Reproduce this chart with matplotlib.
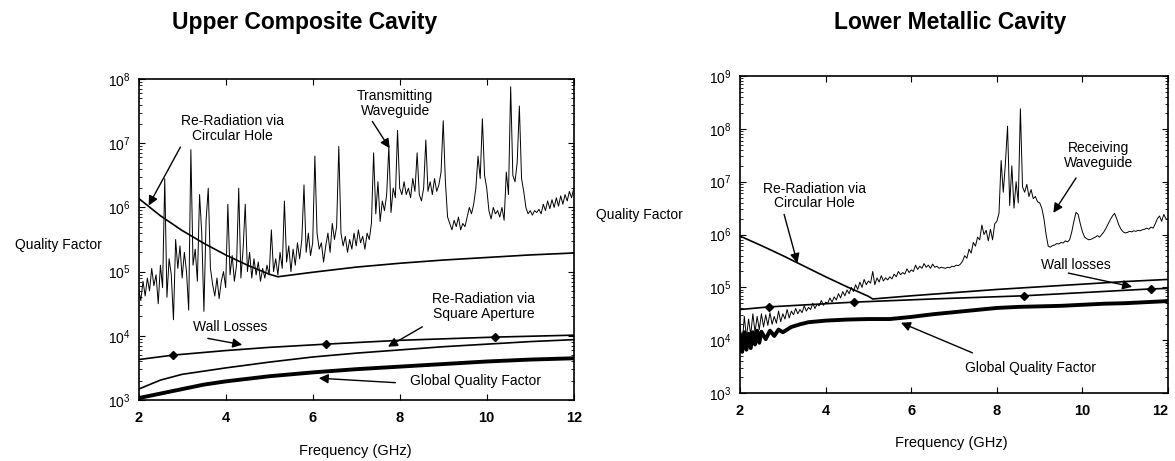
import numpy as np
import matplotlib.pyplot as plt

plt.rcParams['font.family'] = ['Liberation Sans', 'DejaVu Sans']

# ---- Upper composite cavity (values are log10 of Q) ----
# transmitting waveguide, read every 0.05 GHz from 2 to 12 GHz
up_guide_log = [
    4.72, 4.55, 4.85, 4.62, 4.90, 4.70, 5.05, 4.78, 4.95, 4.50,
    5.10, 4.75, 6.45, 4.60, 5.20, 4.95, 4.25, 5.50, 5.05, 5.40,
    4.90, 5.30, 5.00, 4.40, 6.90, 5.10, 5.35, 4.85, 6.20, 5.60,
    4.38, 5.80, 6.30, 5.05, 4.80, 4.62, 4.90, 4.58, 4.85, 5.00,
    4.75, 6.05, 4.95, 5.25, 4.85, 5.10, 6.30, 4.90, 5.35, 6.05,
    5.00, 5.30, 4.90, 5.20, 4.95, 5.15, 4.85, 5.05, 4.90, 5.10,
    4.95, 5.65, 5.00, 5.20, 4.95, 5.30, 5.05, 6.10, 5.15, 5.40,
    5.00, 5.35, 5.10, 5.45, 5.20, 5.50, 6.35, 5.30, 5.60, 5.25,
    5.45, 6.80, 5.60, 5.35, 5.45, 5.15, 5.40, 5.60, 5.30, 5.75,
    5.50, 5.70, 6.95, 5.60, 5.40, 5.55, 5.30, 5.50, 5.35, 5.60,
    5.40, 5.65, 5.45, 5.55, 5.35, 5.60, 5.50, 5.75, 6.85, 5.90,
    6.40, 5.78, 6.10, 5.95, 6.20, 6.95, 5.92, 6.30, 6.15, 7.20,
    6.30, 6.20, 6.40, 6.20, 6.30, 6.15, 6.45, 6.25, 6.85, 6.20,
    6.10, 6.30, 7.05, 6.25, 6.40, 6.20, 6.45, 6.25, 6.35, 6.55,
    7.35, 6.40, 5.85, 5.75, 5.65, 5.80, 5.70, 5.85, 5.65, 5.75,
    5.70, 5.85, 6.00, 5.90, 6.05, 6.30, 6.80, 6.45, 7.38, 6.50,
    6.30, 5.95, 5.82, 6.00, 5.90, 5.95, 5.85, 6.00, 5.80, 6.55,
    6.20, 7.88, 6.50, 6.40, 6.70, 7.58, 6.45, 6.25, 6.00, 5.90,
    5.95, 5.88, 5.95, 5.92, 5.97, 5.90, 6.05, 5.95, 6.10, 5.98,
    6.12, 6.00, 6.15, 6.02, 6.18, 6.05, 6.20, 6.10, 6.25, 6.15,
    6.30,
]

up_hole_f = [2, 2.5, 3, 3.5, 4, 4.5, 5, 5.2, 6, 7, 8, 9, 10, 11, 12]
up_hole_log = [6.14, 5.87, 5.64, 5.44, 5.26, 5.10, 4.96, 4.92,
               4.99, 5.07, 5.13, 5.18, 5.22, 5.26, 5.29]

up_wall_f = [2, 2.8, 4, 5, 6.3, 8, 10.2, 12]
up_wall_log = [3.63, 3.70, 3.77, 3.82, 3.87, 3.93, 3.98, 4.01]
up_wall_marks = [1, 4, 6]

up_square_f = [2, 2.5, 3, 4, 5, 6, 7, 8, 9, 10, 11, 12]
up_square_log = [3.17, 3.31, 3.40, 3.50, 3.59, 3.67, 3.73, 3.78, 3.83,
                 3.87, 3.91, 3.94]

up_global_f = [2, 2.5, 3, 3.5, 4, 5, 6, 7, 8, 9, 10, 11, 12]
up_global_log = [3.03, 3.10, 3.17, 3.24, 3.29, 3.37, 3.43, 3.48, 3.52,
                 3.56, 3.60, 3.63, 3.65]

# ---- Lower metallic cavity ----
# receiving waveguide, read every 0.05 GHz from 2 to 12 GHz
lo_guide_log = [
    4.30, 3.90, 4.45, 4.05, 4.40, 4.10, 4.50, 4.15, 4.45, 4.20,
    4.50, 4.25, 4.48, 4.28, 4.52, 4.30, 4.45, 4.32, 4.55, 4.35,
    4.50, 4.40, 4.58, 4.42, 4.55, 4.48, 4.60, 4.50, 4.58, 4.52,
    4.65, 4.55, 4.62, 4.58, 4.70, 4.60, 4.68, 4.65, 4.75, 4.66,
    4.72, 4.70, 4.80, 4.72, 4.82, 4.76, 4.88, 4.80, 4.92, 4.84,
    4.95, 4.88, 5.00, 4.92, 5.05, 4.96, 5.10, 5.00, 5.15, 5.05,
    5.12, 5.08, 5.30, 5.05, 5.18, 5.10, 5.22, 5.12, 5.18, 5.14,
    5.20, 5.16, 5.25, 5.20, 5.30, 5.24, 5.28, 5.25, 5.35, 5.28,
    5.33, 5.30, 5.42, 5.34, 5.40, 5.36, 5.45, 5.38, 5.42, 5.36,
    5.44, 5.38, 5.40, 5.36, 5.38, 5.37, 5.36, 5.38, 5.37, 5.40,
    5.39, 5.42, 5.41, 5.44, 5.50, 5.60, 5.55, 5.72, 5.65, 5.85,
    5.78, 5.95, 5.90, 6.18, 6.00, 6.08, 5.88, 6.10, 5.90, 6.20,
    6.25, 6.40, 7.40, 6.80, 7.35, 8.05, 6.55, 7.30, 6.50, 7.00,
    6.60, 8.38, 6.90, 6.80, 6.95, 6.72, 6.85, 6.68, 6.72, 6.62,
    6.60, 6.50, 6.30, 6.00, 5.78, 5.76, 5.79, 5.80, 5.83, 5.82,
    5.85, 5.84, 5.88, 5.86, 5.90, 6.05, 6.25, 6.42, 6.38, 6.20,
    6.05, 5.95, 5.92, 5.90, 5.91, 5.93, 5.95, 5.98, 5.95, 6.00,
    6.05, 6.12, 6.20, 6.28, 6.35, 6.40, 6.30, 6.18, 6.10, 6.05,
    6.03, 6.04, 6.06, 6.05, 6.07, 6.06, 6.08, 6.07, 6.09, 6.10,
    6.12, 6.10, 6.14, 6.12, 6.20, 6.30, 6.35, 6.25, 6.38, 6.30,
    6.28,
]

lo_hole_f = [2, 2.5, 3, 3.5, 4, 4.5, 5, 5.1, 6, 7, 8, 9, 10, 11, 12]
lo_hole_log = [5.97, 5.79, 5.60, 5.40, 5.20, 5.01, 4.83, 4.78,
               4.84, 4.90, 4.96, 5.01, 5.06, 5.11, 5.15]

lo_wall_f = [2, 2.68, 4.67, 6.5, 8.63, 10, 11.59, 12]
lo_wall_log = [4.58, 4.63, 4.72, 4.78, 4.84, 4.90, 4.97, 4.98]
lo_wall_marks = [1, 2, 4, 6]

lo_global_f = [2.0, 2.05, 2.1, 2.15, 2.2, 2.25, 2.3, 2.35, 2.4, 2.45, 2.5,
               2.6, 2.7, 2.8, 2.9, 3.0, 3.2, 3.4, 3.6, 4.0, 4.5, 5.0, 5.5,
               6.0, 6.5, 7.0, 7.5, 8.0, 8.5, 9.0, 9.5, 10, 10.5, 11, 11.5, 12]
lo_global_log = [4.10, 3.78, 4.15, 3.82, 4.12, 3.85, 4.15, 3.92, 4.18, 3.95,
                 4.16, 4.02, 4.18, 4.08, 4.20, 4.15, 4.25, 4.30, 4.34, 4.37,
                 4.39, 4.40, 4.40, 4.44, 4.49, 4.53, 4.57, 4.61, 4.63, 4.64,
                 4.65, 4.67, 4.69, 4.70, 4.72, 4.74]

x_ticks = [2, 4, 6, 8, 10, 12]


def q(vals):
    return 10 ** np.array(vals)


def style(ax, top):
    ax.set_yscale('log')
    ax.set_xlim(2, 12)
    ax.set_ylim(1e3, top)
    ax.set_xticks(x_ticks)
    ax.tick_params(which='both', direction='in', top=True, right=True)
    ax.tick_params(which='major', length=4)
    ax.tick_params(which='minor', length=2)
    ax.tick_params(axis='x', labelsize=10.5, pad=8)
    ax.tick_params(axis='y', labelsize=10, pad=6)
    for lab in ax.get_xticklabels():
        lab.set_fontweight('bold')
    for s in ax.spines.values():
        s.set_linewidth(1.2)


def note(ax, text, xy, xytext, tpos):
    ax.annotate('', xy=xy, xytext=xytext,
                arrowprops=dict(arrowstyle='-|>', color='k', lw=1.0,
                                mutation_scale=14, shrinkA=0, shrinkB=0))
    ax.text(tpos[0], tpos[1], text, ha='center', va='center',
            fontsize=10, linespacing=1.05)


fig = plt.figure(figsize=(11.75, 4.61), dpi=100)
ax1 = fig.add_axes([0.118, 0.1323, 0.3703, 0.6963])
ax2 = fig.add_axes([0.6298, 0.1475, 0.3643, 0.6876])

# left panel
f_up = np.linspace(2, 12, len(up_guide_log))
ax1.plot(f_up, q(up_guide_log), color='k', lw=0.7)
ax1.plot(up_hole_f, q(up_hole_log), color='k', lw=1.2)
ax1.plot(up_wall_f, q(up_wall_log), color='k', lw=1.2, marker='D',
         markersize=4, markevery=up_wall_marks)
ax1.plot(up_square_f, q(up_square_log), color='k', lw=1.2)
ax1.plot(up_global_f, q(up_global_log), color='k', lw=2.8)
style(ax1, 1e8)

note(ax1, 'Re-Radiation via\nCircular Hole', (2.23, 10**6.03), (2.96, 10**6.94),
     (4.15, 10**7.23))
note(ax1, 'Transmitting\nWaveguide', (7.77, 10**6.92), (7.37, 10**7.34),
     (7.9, 10**7.62))
note(ax1, 'Wall Losses', (4.38, 10**3.86), (3.59, 10**3.96),
     (4.11, 10**4.14))
note(ax1, 'Re-Radiation via\nSquare Aperture', (7.73, 10**3.83), (8.52, 10**4.14),
     (9.93, 10**4.46))
note(ax1, 'Global Quality Factor', (6.14, 10**3.34), (7.9, 10**3.27),
     (9.75, 10**3.29))

# right panel
f_lo = np.linspace(2, 12, len(lo_guide_log))
ax2.plot(f_lo, q(lo_guide_log), color='k', lw=0.7)
ax2.plot(lo_hole_f, q(lo_hole_log), color='k', lw=1.2)
ax2.plot(lo_wall_f, q(lo_wall_log), color='k', lw=1.2, marker='D',
         markersize=4, markevery=lo_wall_marks)
ax2.plot(lo_global_f, q(lo_global_log), color='k', lw=2.8)
style(ax2, 1e9)
# the last tick label sits inside the page edge, as in the scan
ax2.get_xticklabels()[-1].set_horizontalalignment('right')

note(ax2, 'Receiving\nWaveguide', (9.32, 10**6.41), (9.85, 10**7.07),
     (10.37, 10**7.5))
note(ax2, 'Re-Radiation via\nCircular Hole', (3.34, 10**5.46), (3.03, 10**6.38),
     (3.73, 10**6.73))
note(ax2, 'Wall losses', (11.16, 10**5.01), (9.67, 10**5.27),
     (9.85, 10**5.43))
note(ax2, 'Global Quality Factor', (5.76, 10**4.33), (7.43, 10**3.76),
     (8.79, 10**3.47))

# titles and axis labels placed as in the original layout
fig.text(305 / 1175, 1 - 22 / 461, 'Upper Composite Cavity', ha='center',
         va='center', fontsize=16.5, fontweight='bold')
fig.text(950 / 1175, 1 - 22 / 461, 'Lower Metallic Cavity', ha='center',
         va='center', fontsize=16.5, fontweight='bold')
fig.text(58 / 1175, 1 - 245 / 461, 'Quality Factor', ha='center',
         va='center', fontsize=10)
fig.text(639 / 1175, 1 - 215 / 461, 'Quality Factor', ha='center',
         va='center', fontsize=10)
fig.text(355 / 1175, 1 - 451 / 461, 'Frequency (GHz)', ha='center',
         va='center', fontsize=10.5)
fig.text(951 / 1175, 1 - 443 / 461, 'Frequency (GHz)', ha='center',
         va='center', fontsize=10.5)

fig.savefig('out.png', dpi=100)
